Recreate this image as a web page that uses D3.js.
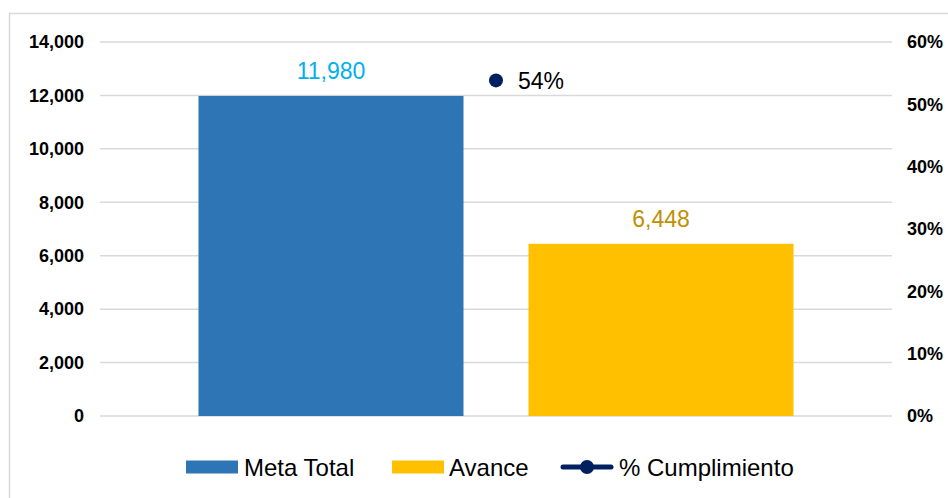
<!DOCTYPE html>
<html>
<head>
<meta charset="utf-8">
<script src="https://cdn.jsdelivr.net/npm/d3@7"></script>
<style>
  body { margin: 0; background: #fff; }
  svg { display: block; font-family: "Liberation Sans", Arial, sans-serif; }
</style>
</head>
<body>
<svg id="chart" width="948" height="498"></svg>
<script>
let series = ['Meta Total', 'Avance'];
let values = [11980, 6448];
let valueLabels = ['11,980', '6,448'];
let pct = 0.54;
let pctLabel = '54%';
let leftTicks = [0, 2000, 4000, 6000, 8000, 10000, 12000, 14000];
let rightTicks = [0, 0.1, 0.2, 0.3, 0.4, 0.5, 0.6];
let legendLabels = ['Meta Total', 'Avance', '% Cumplimiento'];

let colorBars = ['#2E75B6', '#FFC000'];
let colorLabels = ['#00B0F0', '#BF9000'];
let colorLine = '#002060';
let colorGrid = '#d9d9d9';

let svg = d3.select('#chart');
let plot = {left: 100, right: 892, top: 42, bottom: 416};

// frame
svg.append('rect')
    .attr('x', 9.5).attr('y', 13.5)
    .attr('width', 960).attr('height', 500)
    .attr('fill', 'none').attr('stroke', colorGrid).attr('stroke-width', 1.5);

let y = d3.scaleLinear().domain([0, 14000]).range([plot.bottom, plot.top]);
let y2 = d3.scaleLinear().domain([0, 0.6]).range([plot.bottom, plot.top]);
let x0 = d3.scaleBand().domain(['']).range([plot.left, plot.right]).paddingInner(0).paddingOuter(0.1655);
let x1 = d3.scaleBand().domain(series).range([0, x0.bandwidth()]).paddingInner(0.197).paddingOuter(0);

// grid
svg.append('g')
    .selectAll('line')
    .data(leftTicks)
    .join('line')
    .attr('x1', plot.left).attr('x2', plot.right)
    .attr('y1', d => y(d)).attr('y2', d => y(d))
    .attr('stroke', colorGrid).attr('stroke-width', 1.5);

// left axis
let left = svg.append('g')
    .attr('transform', `translate(${plot.left - 16},0)`)
    .call(d3.axisLeft(y).tickValues(leftTicks).tickSize(0).tickPadding(0).tickFormat(d3.format(',')));
left.select('.domain').remove();
left.selectAll('text')
    .attr('font-size', 18).attr('font-weight', 'bold').attr('fill', '#000')
    .attr('font-family', '"Liberation Sans", Arial, sans-serif');

// right axis
let right = svg.append('g')
    .attr('transform', `translate(${plot.right + 15},0)`)
    .call(d3.axisRight(y2).tickValues(rightTicks).tickSize(0).tickPadding(0).tickFormat(d3.format('.0%')));
right.select('.domain').remove();
right.selectAll('text')
    .attr('font-size', 18).attr('font-weight', 'bold').attr('fill', '#000')
    .attr('font-family', '"Liberation Sans", Arial, sans-serif');

// bars
let gx = x0('');
svg.append('g')
    .selectAll('rect')
    .data(series)
    .join('rect')
    .attr('x', d => gx + x1(d))
    .attr('width', x1.bandwidth())
    .attr('y', (d, i) => y(values[i]))
    .attr('height', (d, i) => plot.bottom - y(values[i]))
    .attr('fill', (d, i) => colorBars[i]);

svg.append('g')
    .selectAll('text')
    .data(series)
    .join('text')
    .attr('x', d => gx + x1(d) + x1.bandwidth() / 2)
    .attr('y', (d, i) => y(values[i]) - 17)
    .attr('text-anchor', 'middle')
    .attr('font-size', 23)
    .attr('fill', (d, i) => colorLabels[i])
    .text((d, i) => valueLabels[i]);

// % point
let cx = gx + x0.bandwidth() / 2;
svg.append('circle')
    .attr('cx', cx).attr('cy', y2(pct) + 1)
    .attr('r', 7).attr('fill', colorLine);
svg.append('text')
    .attr('x', cx + 22).attr('y', y2(pct) + 10)
    .attr('font-size', 23).attr('fill', '#000')
    .text(pctLabel);

// legend
let legend = svg.append('g').attr('transform', 'translate(0,467)');
let legendX = [186, 392, 561];
legendLabels.forEach((label, i) => {
    let x = legendX[i];
    if (i < 2) {
        legend.append('rect').attr('x', x).attr('y', -6.5).attr('width', 52).attr('height', 13).attr('fill', colorBars[i]);
    } else {
        legend.append('line').attr('x1', x + 2).attr('x2', x + 50).attr('y1', 0).attr('y2', 0)
            .attr('stroke', colorLine).attr('stroke-width', 5).attr('stroke-linecap', 'round');
        legend.append('circle').attr('cx', x + 26).attr('cy', 0).attr('r', 7).attr('fill', colorLine);
    }
    legend.append('text')
        .attr('x', x + (i === 1 ? 57 : 58))
        .attr('y', 9)
        .attr('font-size', 24).attr('fill', '#000')
        .text(label);
});
</script>
</body>
</html>
